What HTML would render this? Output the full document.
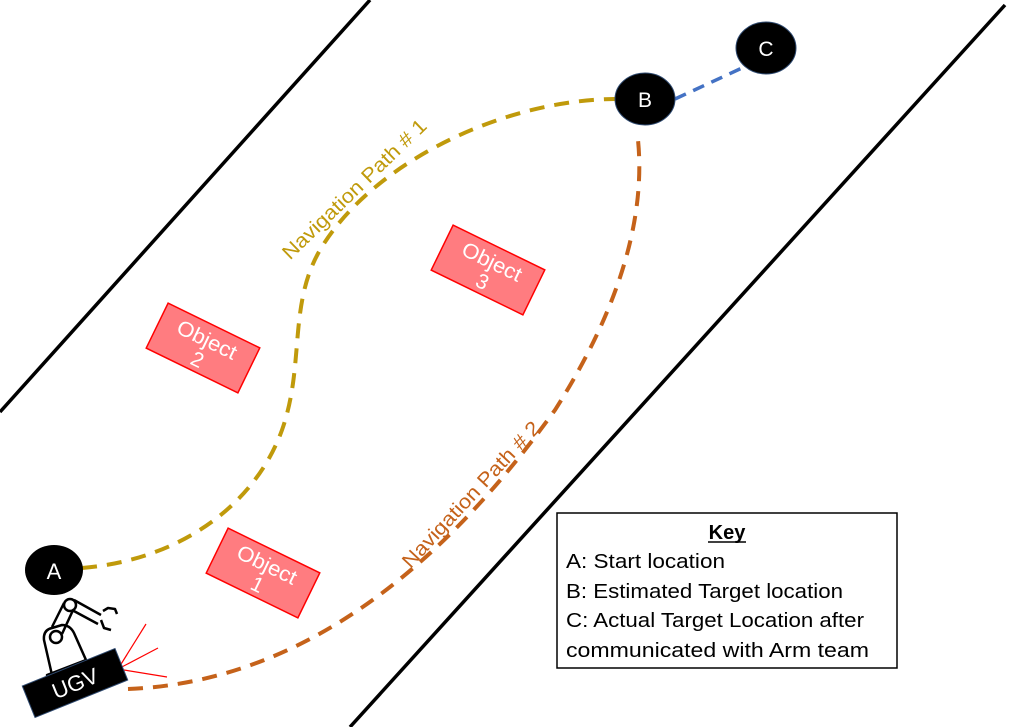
<!DOCTYPE html>
<html><head><meta charset="utf-8"><style>html,body{margin:0;padding:0;background:#fff}svg{display:block}</style></head>
<body>
<svg width="1011" height="727" viewBox="0 0 1011 727" xmlns="http://www.w3.org/2000/svg" font-family="Liberation Sans, sans-serif">
<line x1="0" y1="412" x2="370" y2="0" stroke="#000" stroke-width="3.5"/>
<line x1="350" y1="727" x2="1005" y2="5" stroke="#000" stroke-width="3.5"/>

<path d="M82,568 C180,560 255,505 282,430 C305,365 288,305 320,250 C370,165 500,100 615,99" fill="none" stroke="#C09A0B" stroke-width="4" stroke-dasharray="15,10"/>
<path d="M128,689 C300,682 440,570 555,410 C625,300 645,210 638,140" fill="none" stroke="#C5621A" stroke-width="4" stroke-dasharray="15,10"/>
<line x1="675" y1="99" x2="742" y2="68" stroke="#4472C4" stroke-width="3.5" stroke-dasharray="12,8"/>

<g fill="#FF7C80" stroke="#FF0000" stroke-width="1.5">
<rect x="-51" y="-25" width="102" height="50" transform="translate(203,348) rotate(26)"/>
<rect x="-51" y="-25" width="102" height="50" transform="translate(488,270) rotate(26)"/>
<rect x="-51" y="-25" width="102" height="50" transform="translate(263,573) rotate(26)"/>
</g>
<g fill="#fff" font-size="21" text-anchor="middle">
<g transform="translate(203,348) rotate(26)"><text y="-2" textLength="64" lengthAdjust="spacingAndGlyphs">Object</text><text y="20">2</text></g>
<g transform="translate(488,270) rotate(26)"><text y="-2" textLength="64" lengthAdjust="spacingAndGlyphs">Object</text><text y="20">3</text></g>
<g transform="translate(263,573) rotate(26)"><text y="-2" textLength="64" lengthAdjust="spacingAndGlyphs">Object</text><text y="20">1</text></g>
</g>

<text transform="translate(359,194) rotate(-44)" text-anchor="middle" font-size="20" fill="#C09A0B" textLength="192" lengthAdjust="spacingAndGlyphs">Navigation Path # 1</text>
<text transform="translate(476,499) rotate(-47)" text-anchor="middle" font-size="20" fill="#C5621A" textLength="192" lengthAdjust="spacingAndGlyphs">Navigation Path # 2</text>

<ellipse cx="54" cy="570" rx="29" ry="25" fill="#000"/>
<text x="54" y="579" fill="#fff" font-size="22" text-anchor="middle">A</text>
<ellipse cx="645" cy="99" rx="30" ry="26" fill="#000" stroke="#2F4A70" stroke-width="1"/>
<text x="645" y="107" fill="#fff" font-size="21" text-anchor="middle">B</text>
<ellipse cx="766" cy="48" rx="30" ry="26" fill="#000" stroke="#2F4A70" stroke-width="1"/>
<text x="766" y="56" fill="#fff" font-size="21" text-anchor="middle">C</text>

<!-- robot arm -->
<g fill="none" stroke="#000" stroke-width="2.5" stroke-linejoin="round">
<path d="M48,680 L88,665 L86,660 L47,675 Z" fill="#fff"/>
<path d="M52,675 L44,640 Q43,630 52,628 L62,625 Q70,625 74,633 L86,660"/>
<path d="M52,627 L64,603 M62,634 L74,608"/>
<circle cx="70" cy="605" r="6" fill="#fff"/>
<circle cx="56" cy="637" r="6" fill="#fff"/>
<path d="M74,600 L101,615 M72,610 L98,624"/>
<path d="M103,611 L108,608 L115,609 L117,614 M101,620 L104,628 L111,630"/>
</g>
<g stroke="#FF0000" stroke-width="1.2">
<line x1="118" y1="669" x2="146" y2="624"/>
<line x1="118" y1="669" x2="158" y2="648"/>
<line x1="118" y1="669" x2="167" y2="677"/>
</g>
<g transform="translate(75,683) rotate(-22)">
<rect x="-50" y="-17" width="100" height="34" fill="#000" stroke="#2F4A70" stroke-width="1"/>
<text y="8" fill="#fff" font-size="22" text-anchor="middle">UGV</text>
</g>

<rect x="557" y="513" width="340" height="155" fill="#fff" stroke="#000" stroke-width="1.5"/>
<g font-size="20" fill="#000">
<text x="727" y="539" text-anchor="middle" font-weight="bold">Key</text>
<line x1="708" y1="542" x2="746" y2="542" stroke="#000" stroke-width="1.5"/>
<text x="566" y="568" textLength="159" lengthAdjust="spacingAndGlyphs">A: Start location</text>
<text x="566" y="598" textLength="277" lengthAdjust="spacingAndGlyphs">B: Estimated Target location</text>
<text x="566" y="627" textLength="298" lengthAdjust="spacingAndGlyphs">C: Actual Target Location after</text>
<text x="566" y="657" textLength="303" lengthAdjust="spacingAndGlyphs">communicated with Arm team</text>
</g>
</svg>
</body></html>
